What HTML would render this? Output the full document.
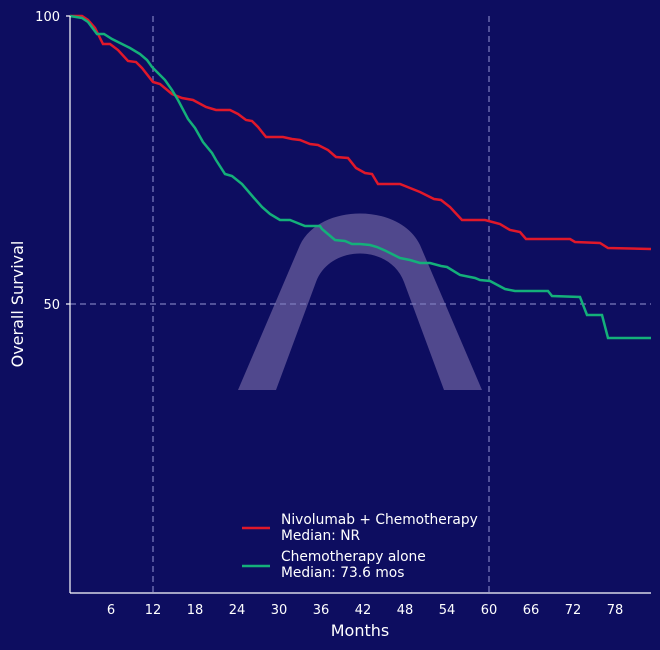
<!DOCTYPE html>
<html><head><style>
html,body{margin:0;padding:0;background:#0d0d60;}
svg{display:block;font-family:"DejaVu Sans","Liberation Sans",sans-serif;}
</style></head><body>
<svg width="660" height="650" viewBox="0 0 660 650">
<rect width="660" height="650" fill="#0d0d60"/>
<path d="M238 390 L300 245 C320 203 400 203 420 245 L482 390 L444 390 L404 282 C390 244 330 244 316 282 L276 390 Z" fill="rgba(175,155,205,0.42)"/>
<g stroke="#7f7fc0" stroke-width="1.5" stroke-dasharray="6,4" opacity="0.8">
<line x1="153" y1="16" x2="153" y2="593"/>
<line x1="489" y1="16" x2="489" y2="593"/>
<line x1="70" y1="304" x2="651" y2="304"/>
</g>
<polyline fill="none" stroke="#e0182a" stroke-width="2.5" points="70,16 82,16 88,20 95,28 103,44 110,44 118,50 128,61 136,62 142,68 153,82 160,84 172,94 182,98 193,100 206,107 216,110 230,110 238,114 246,120 252,121 258,127 266,137 283,137 292,139 300,140 310,144 318,145 328,150 336,157 348,158 356,168 365,173 372,174 378,184 400,184 410,188 420,192 434,199 441,200 450,207 462,220 485,220 500,224 510,230 520,232 526,239 570,239 575,242 600,243 608,248 651,249"/>
<polyline fill="none" stroke="#14b07a" stroke-width="2.5" points="70,16 82,18 88,22 97,34 104,34 112,39 130,48 140,54 147,60 152,67 157,72 165,80 172,90 178,100 188,119 195,128 203,142 212,153 216,160 225,174 232,176 242,184 254,198 262,207 270,214 280,220 290,220 295,222 305,226 320,226 322,229 335,240 345,241 352,244 360,244 370,245 377,247 386,251 400,258 410,260 420,263 430,263 441,266 447,267 460,275 475,278 480,280 490,281 505,289 515,291 548,291 552,296 580,297 587,315 602,315 608,338 651,338"/>
<g stroke="#ffffff" stroke-width="1.2">
<line x1="70" y1="16" x2="70" y2="593"/>
<line x1="70" y1="593" x2="651" y2="593"/>
<line x1="66" y1="16" x2="70" y2="16"/>
<line x1="66" y1="304" x2="70" y2="304"/>
</g>
<g fill="#ffffff" font-size="13" text-anchor="middle">
<text x="111" y="614">6</text><text x="153" y="614">12</text><text x="195" y="614">18</text>
<text x="237" y="614">24</text><text x="279" y="614">30</text><text x="321" y="614">36</text>
<text x="363" y="614">42</text><text x="405" y="614">48</text><text x="447" y="614">54</text>
<text x="489" y="614">60</text><text x="531" y="614">66</text><text x="573" y="614">72</text>
<text x="615" y="614">78</text>
<text x="360" y="636" font-size="16">Months</text>
</g>
<g fill="#ffffff" font-size="13" text-anchor="end">
<text x="60" y="21">100</text><text x="60" y="309">50</text>
</g>
<text transform="translate(23,304) rotate(-90)" fill="#ffffff" font-size="16" text-anchor="middle">Overall Survival</text>
<line x1="242" y1="528" x2="270" y2="528" stroke="#e0182a" stroke-width="2.5"/>
<line x1="242" y1="566" x2="270" y2="566" stroke="#14b07a" stroke-width="2.5"/>
<g fill="#ffffff" font-size="13.8">
<text x="281" y="524">Nivolumab + Chemotherapy</text>
<text x="281" y="540">Median: NR</text>
<text x="281" y="561">Chemotherapy alone</text>
<text x="281" y="577">Median: 73.6 mos</text>
</g>
</svg>
</body></html>
